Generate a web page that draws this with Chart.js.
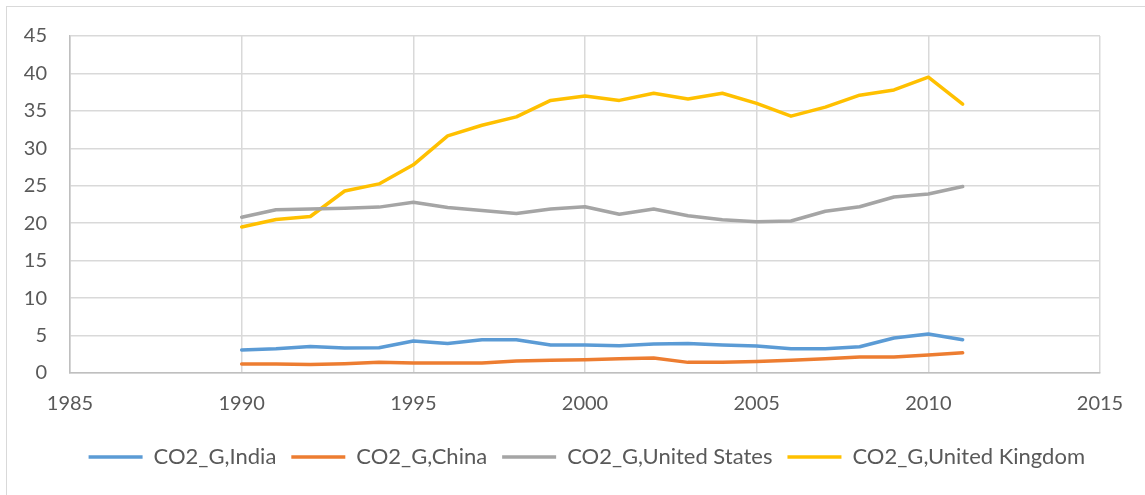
<!DOCTYPE html>
<html>
<head>
<meta charset="utf-8">
<script src="https://cdn.jsdelivr.net/npm/chart.js@4/dist/chart.umd.min.js"></script>
<style>
  html, body { margin: 0; padding: 0; background: #fff; overflow: hidden; }
  #frame { position: absolute; left: 6px; top: 6px; width: 1160px; height: 520px; border: 1px solid #d9d9d9; }
  #wrap { position: absolute; left: 0; top: 0; width: 1145px; height: 495px; }
</style>
</head>
<body>
<div id="frame"></div>
<div id="wrap"><canvas id="co2Chart"></canvas></div>
<script>
const years = [1990, 1991, 1992, 1993, 1994, 1995, 1996, 1997, 1998, 1999, 2000,
  2001, 2002, 2003, 2004, 2005, 2006, 2007, 2008, 2009, 2010, 2011];

const india = [3.07, 3.24, 3.55, 3.33, 3.38, 4.27, 3.95, 4.44, 4.44, 3.73, 3.73,
  3.64, 3.87, 3.95, 3.73, 3.6, 3.24, 3.24, 3.5, 4.67, 5.2, 4.44];
const china = [1.2, 1.2, 1.15, 1.25, 1.42, 1.33, 1.33, 1.33, 1.6, 1.7, 1.78,
  1.9, 2.0, 1.42, 1.45, 1.55, 1.7, 1.9, 2.13, 2.13, 2.4, 2.7];
const unitedStates = [20.8, 21.8, 21.9, 22.0, 22.15, 22.8, 22.1, 21.7, 21.3, 21.9, 22.2,
  21.2, 21.9, 21.0, 20.45, 20.2, 20.3, 21.6, 22.2, 23.5, 23.9, 24.9];
const unitedKingdom = [19.5, 20.5, 20.9, 24.3, 25.25, 27.8, 31.66, 33.08, 34.2, 36.4, 37.0,
  36.4, 37.35, 36.6, 37.35, 36.0, 34.3, 35.5, 37.1, 37.8, 39.5, 35.9];

const seriesNames = ['CO2_G,India', 'CO2_G,China', 'CO2_G,United States', 'CO2_G,United Kingdom'];
const seriesColors = ['#5b9bd5', '#ed7d31', '#a5a5a5', '#ffc000'];
const xTicks = { min: 1985, max: 2015, step: 5 };
const yTicks = { min: 0, max: 45, step: 5 };

const textColor = '#595959';
const gridColor = '#d9d9d9';
const fontFamily = 'Lato, "Liberation Sans", sans-serif';

function toPoints(values) {
  return years.map((year, i) => ({ x: year, y: values[i] }));
}

const datasets = [india, china, unitedStates, unitedKingdom].map((values, i) => ({
  label: seriesNames[i],
  data: toPoints(values),
  borderColor: seriesColors[i],
  backgroundColor: seriesColors[i],
  borderWidth: 3.5,
  borderJoinStyle: 'round',
  borderCapStyle: 'round',
  pointRadius: 0,
  pointHoverRadius: 0,
  tension: 0,
  fill: false
}));

const ctx = document.getElementById('co2Chart').getContext('2d');
new Chart(ctx, {
  type: 'line',
  data: { datasets: datasets },
  options: {
    responsive: true,
    maintainAspectRatio: false,
    animation: false,
    layout: { padding: { left: 0, right: 45, top: 36, bottom: 17 } },
    plugins: {
      tooltip: { enabled: false },
      legend: {
        position: 'bottom',
        align: 'end', // original legend sits a bit right of centre
        labels: {
          usePointStyle: true,
          pointStyle: 'line',
          pointStyleWidth: 54,
          padding: 15,
          color: textColor,
          font: { family: fontFamily, size: 22 }
        }
      }
    },
    scales: {
      x: {
        type: 'linear',
        min: xTicks.min,
        max: xTicks.max,
        afterFit: (scale) => { scale.height = 58; },
        ticks: {
          stepSize: xTicks.step,
          padding: 19,
          color: textColor,
          font: { family: fontFamily, size: 20 },
          callback: (value) => String(value)
        },
        grid: { color: gridColor, lineWidth: 1.5, drawTicks: false },
        border: { color: '#bfbfbf', width: 1.5 }
      },
      y: {
        min: yTicks.min,
        max: yTicks.max,
        afterFit: (scale) => { scale.width = 70; },
        ticks: {
          stepSize: yTicks.step,
          padding: 23,
          color: textColor,
          font: { family: fontFamily, size: 20 }
        },
        grid: { color: gridColor, lineWidth: 1.5, drawTicks: false },
        border: { color: '#bfbfbf', width: 1.5 }
      }
    }
  }
});
</script>
</body>
</html>
